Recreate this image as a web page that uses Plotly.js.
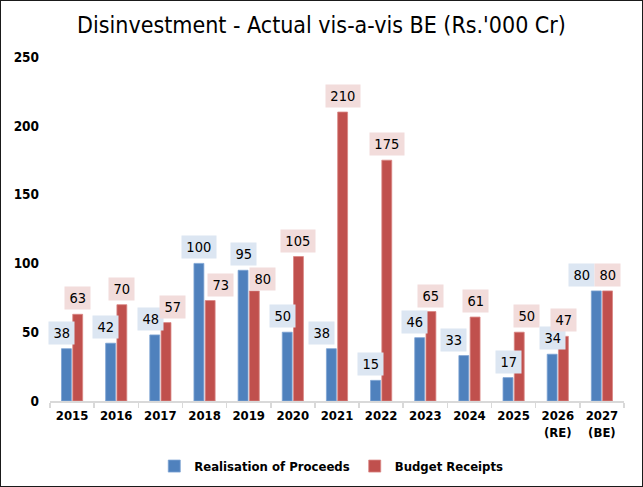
<!DOCTYPE html>
<html>
<head>
<meta charset="utf-8">
<script src="https://cdn.plot.ly/plotly-3.0.1.min.js"></script>
<style>
  html, body { margin: 0; padding: 0; background: #fff; }
  #chart { width: 641px; height: 485px; border: 1px solid #1a1a1a; }
</style>
</head>
<body>
<div id="chart"></div>
<script>
const years = ['2015','2016','2017','2018','2019','2020','2021','2022','2023','2024','2025','2026<br>(RE)','2027<br>(BE)'];
const realisation = [38, 42, 48, 100, 95, 50, 38, 15, 46, 33, 17, 34, 80];
const budget = [63, 70, 57, 73, 80, 105, 210, 175, 65, 61, 50, 47, 80];

// label nudges (pixels) to mimic the original label placement
const blueNudgeX = [-5, -5, -4, 0, 0, -5, -10, -5, -5, -10, 0, 0, -15];
const redNudgeX  = [0, 0, 7, 10, 8, 0, 0, 0, 0, 0, 7, 0, 0];
const redNudgeY  = [4, 4, 4, 4, 0, 4, 4, 4, 4, 4, 4, 4, 4];

const blue = '#4f81bd', red = '#c0504d';
const labelFont = { family: 'DejaVu Sans Condensed, DejaVu Sans', size: 14.5, color: '#000' };
const boldFont = 'DejaVu Sans Condensed, DejaVu Sans';

const traces = [
  { type: 'bar', name: 'Realisation of Proceeds', x: years, y: realisation,
    marker: { color: blue, line: { color: '#7ea3d3', width: 0.8 } }, hoverinfo: 'y' },
  { type: 'bar', name: 'Budget Receipts', x: years, y: budget,
    marker: { color: red, line: { color: '#d98784', width: 0.8 } }, hoverinfo: 'y' }
];

function boxWidth(v) { return String(v).length * 8.2 + 3; }

const annotations = [];
years.forEach((yr, i) => {
  annotations.push({
    x: i, y: realisation[i], xref: 'x', yref: 'y', text: String(realisation[i]),
    showarrow: false, yanchor: 'bottom', xanchor: 'center', xshift: blueNudgeX[i] - 5.6, yshift: 4,
    bgcolor: '#dce6f2', borderpad: 3, width: boxWidth(realisation[i]), align: 'center', font: labelFont
  });
  annotations.push({
    x: i, y: budget[i], xref: 'x', yref: 'y', text: String(budget[i]),
    showarrow: false, yanchor: 'bottom', xanchor: 'center', xshift: redNudgeX[i] + 5.6, yshift: redNudgeY[i],
    bgcolor: '#f2dcdb', borderpad: 3, width: boxWidth(budget[i]), align: 'center', font: labelFont
  });
});

const layout = {
  width: 641, height: 485,
  margin: { l: 49, r: 18, t: 56, b: 85, autoexpand: false },
  paper_bgcolor: '#fff', plot_bgcolor: '#fff',
  title: { text: "Disinvestment - Actual vis-a-vis BE (Rs.'000 Cr)", x: 0.5, xanchor: 'center', y: 0.95, yanchor: 'middle',
           font: { family: 'DejaVu Sans Condensed, DejaVu Sans', size: 23, color: '#000' } },
  barmode: 'group', bargap: 0.49, bargroupgap: 0.12,
  xaxis: {
    type: 'category', range: [-0.5, 12.5], showline: true, linecolor: '#d9d9d9', linewidth: 1.5,
    ticks: 'outside', tickson: 'boundaries', ticklen: 5, tickcolor: '#d9d9d9', tickwidth: 1.5,
    tickangle: 0, ticklabelstandoff: 2,
    tickfont: { family: boldFont, size: 13, color: '#000', weight: 'bold' },
    showgrid: false, zeroline: false, fixedrange: true
  },
  yaxis: {
    range: [0, 250], tickvals: [0, 50, 100, 150, 200, 250], showgrid: false, zeroline: false,
    showline: false, ticks: '', ticklabelstandoff: 10,
    tickfont: { family: boldFont, size: 13.5, color: '#000', weight: 'bold' }, fixedrange: true
  },
  showlegend: true,
  legend: { orientation: 'h', x: 0.49, xanchor: 'center', xref: 'paper', yref: 'container', y: 0.041, yanchor: 'middle',
            font: { family: boldFont, size: 13, color: '#000', weight: 'bold' }, itemwidth: 30 },
  annotations: annotations
};

Plotly.newPlot('chart', traces, layout, { displayModeBar: false, staticPlot: true });
</script>
</body>
</html>
